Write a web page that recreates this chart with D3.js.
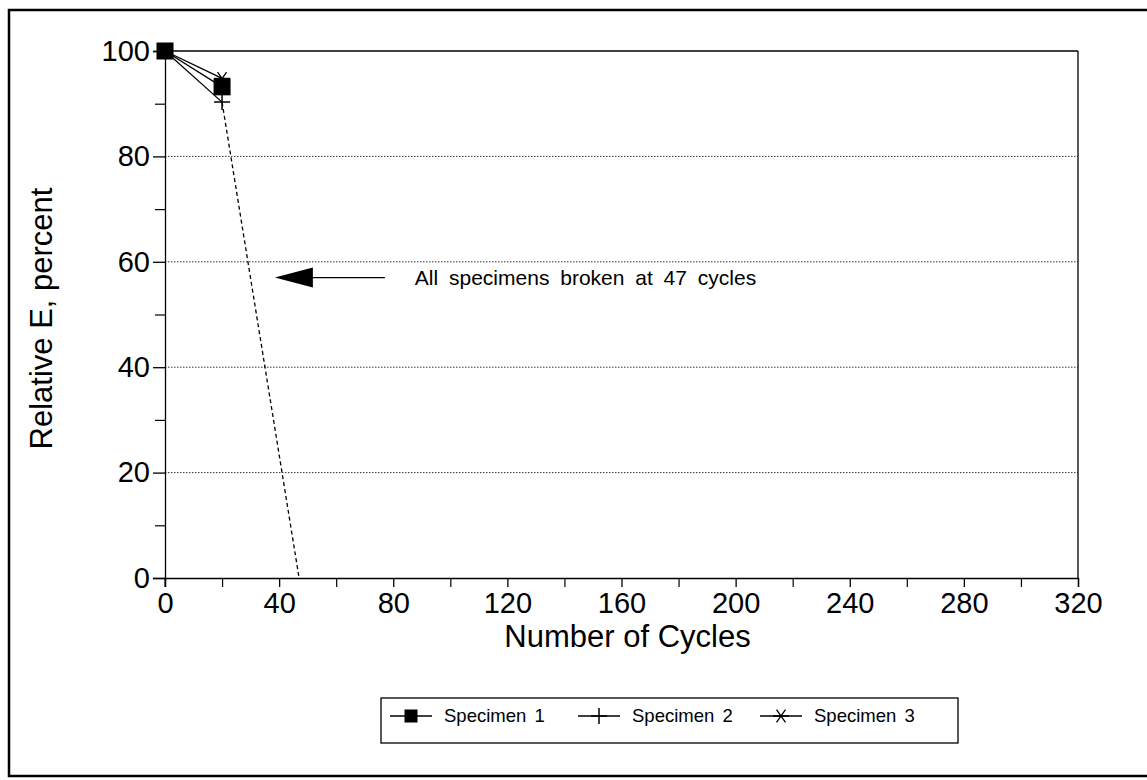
<!DOCTYPE html>
<html><head><meta charset="utf-8">
<script src="https://cdn.jsdelivr.net/npm/d3@7"></script>
<style>body{margin:0;background:#fff}svg{display:block}text{font-family:"Liberation Sans",Arial,sans-serif;fill:#000}</style>
</head><body><svg id="c" width="1147" height="780"></svg>
<script>
// Data
const cycles = [0, 20];
const specimen1 = [100, 93.2];
const specimen2 = [100, 90.3];
const specimen3 = [100, 94.8];
const seriesNames = ["Specimen 1", "Specimen 2", "Specimen 3"];
const breakLine = [[20, 90.3], [47, 0]];
const xTicks = [0, 40, 80, 120, 160, 200, 240, 280, 320];
const xMinor = [20, 60, 100, 140, 180, 220, 260, 300];
const yTicks = [0, 20, 40, 60, 80, 100];
const yMinor = [10, 30, 50, 70, 90];
const annotation = {x: 38.5, y: 57, text: "All specimens broken at 47 cycles"};

const svg = d3.select("#c");
const x = d3.scaleLinear().domain([0, 320]).range([165, 1078]);
const y = d3.scaleLinear().domain([0, 100]).range([578, 51]);

// outer frame
svg.append("rect").attr("x", 9).attr("y", 10).attr("width", 1150).attr("height", 766)
  .attr("fill", "none").attr("stroke", "#000").attr("stroke-width", 2.5);

// gridlines
svg.append("g").selectAll("line").data([20, 40, 60, 80]).join("line")
  .attr("x1", x(0)).attr("x2", x(320)).attr("y1", d => y(d)).attr("y2", d => y(d))
  .attr("stroke", "#333").attr("stroke-width", 1).attr("stroke-dasharray", "1.5,1.5");

// plot border top/right
svg.append("line").attr("x1", x(0)).attr("x2", x(320)).attr("y1", y(100)).attr("y2", y(100)).attr("stroke", "#000").attr("stroke-width", 1.3);
svg.append("line").attr("x1", x(320)).attr("x2", x(320)).attr("y1", y(100)).attr("y2", y(0)).attr("stroke", "#000").attr("stroke-width", 1.3);

// x axis
const xAxis = d3.axisBottom(x).tickValues(xTicks).tickSize(9).tickPadding(5).tickFormat(d3.format("d"));
const gx = svg.append("g").attr("transform", `translate(0,${y(0)})`).call(xAxis);
gx.select(".domain").attr("stroke-width", 1.3);
gx.selectAll(".tick line").attr("stroke-width", 1.3);
gx.selectAll("text").style("font-size", "29px");
const xAxisMinor = d3.axisBottom(x).tickValues(xMinor).tickSize(9).tickFormat("");
const gxm = svg.append("g").attr("transform", `translate(0,${y(0)})`).call(xAxisMinor);
gxm.select(".domain").remove();
gxm.selectAll(".tick line").attr("stroke-width", 1.2);

// y axis
const yAxis = d3.axisLeft(y).tickValues(yTicks).tickSize(12).tickPadding(3).tickFormat(d3.format("d"));
const gy = svg.append("g").attr("transform", `translate(${x(0)},0)`).call(yAxis);
gy.select(".domain").attr("stroke-width", 1.3);
gy.selectAll(".tick line").attr("stroke-width", 1.3);
gy.selectAll("text").style("font-size", "29px");
const yAxisMinor = d3.axisLeft(y).tickValues(yMinor).tickSize(10).tickFormat("");
const gym = svg.append("g").attr("transform", `translate(${x(0)},0)`).call(yAxisMinor);
gym.select(".domain").remove();
gym.selectAll(".tick line").attr("stroke-width", 1.2);
svg.append("line").attr("x1", x(0)).attr("x2", x(0)).attr("y1", y(0)).attr("y2", y(0) + 9).attr("stroke", "#000");

// axis titles
svg.append("text").attr("x", (x(0) + x(320)) / 2 + 6).attr("y", 647).attr("text-anchor", "middle")
  .style("font-size", "31px").text("Number of Cycles");
svg.append("text").attr("transform", `translate(52,${(y(0) + y(100)) / 2 + 4}) rotate(-90)`).attr("text-anchor", "middle")
  .style("font-size", "31px").text("Relative E, percent");

// series
const series = [specimen1, specimen2, specimen3];
const line = d3.line().x(d => x(d[0])).y(d => y(d[1]));
series.forEach(s => {
  svg.append("path").datum(cycles.map((c, i) => [c, s[i]])).attr("d", line)
    .attr("fill", "none").attr("stroke", "#000").attr("stroke-width", 1.3);
});
svg.append("path").datum(breakLine).attr("d", line).attr("fill", "none")
  .attr("stroke", "#000").attr("stroke-width", 1.3).attr("stroke-dasharray", "4,3");

function marker(g, k, cx, cy, s) {
  if (k === 0) {
    g.append("rect").attr("x", cx - s / 2).attr("y", cy - s / 2).attr("width", s).attr("height", s).attr("fill", "#000");
  } else if (k === 1) {
    g.append("path").attr("d", `M${cx - s / 2},${cy}H${cx + s / 2}M${cx},${cy - s / 2}V${cy + s / 2}`).attr("stroke", "#000").attr("stroke-width", 1.5);
  } else {
    const r = s / 2, a = r * 0.8;
    g.append("path").attr("d", `M${cx - r},${cy}H${cx + r}M${cx - a * 0.7},${cy - a}L${cx + a * 0.7},${cy + a}M${cx + a * 0.7},${cy - a}L${cx - a * 0.7},${cy + a}`)
      .attr("stroke", "#000").attr("stroke-width", 1.3);
  }
}
const mg = svg.append("g");
[2, 1, 0].forEach(k => series[k].forEach((v, i) => marker(mg, k, x(cycles[i]), y(v), k === 0 ? 17 : 16)));

// annotation arrow
const ax = x(annotation.x), ay = y(annotation.y);
svg.append("path").attr("d", `M${ax},${ay}L${ax + 38},${ay - 10}L${ax + 38},${ay + 10}Z`).attr("fill", "#000");
svg.append("line").attr("x1", ax + 36).attr("x2", ax + 110).attr("y1", ay).attr("y2", ay).attr("stroke", "#000").attr("stroke-width", 1.3);
svg.append("text").attr("x", ax + 140).attr("y", ay + 7).style("font-size", "21px").style("word-spacing", "5px").text(annotation.text);

// legend
const lg = svg.append("g");
lg.append("rect").attr("x", 381).attr("y", 698).attr("width", 577).attr("height", 45).attr("fill", "none").attr("stroke", "#000").attr("stroke-width", 1.3);
const legX = [390, 578, 760];
seriesNames.forEach((n, k) => {
  const lx = legX[k], ly = 716;
  lg.append("line").attr("x1", lx).attr("x2", lx + 42).attr("y1", ly).attr("y2", ly).attr("stroke", "#000").attr("stroke-width", 1.3);
  marker(lg, k, lx + 21, ly, k === 0 ? 13 : 16);
  lg.append("text").attr("x", lx + 54).attr("y", ly + 6).style("font-size", "18.5px").style("word-spacing", "3px").text(n);
});
</script></body></html>
